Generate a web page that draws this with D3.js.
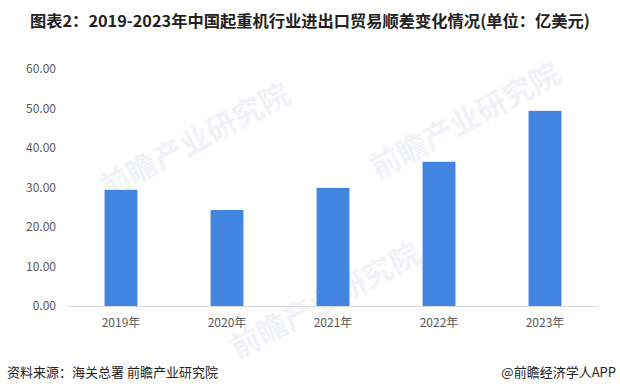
<!DOCTYPE html>
<html><head><meta charset="utf-8">
<script src="https://cdn.jsdelivr.net/npm/d3@7"></script>
<style>body{margin:0;background:#fff}svg{display:block}</style>
</head><body>
<svg id="c" width="620" height="392"></svg>
<script>
const categories = ["2019年","2020年","2021年","2022年","2023年"];
const values = [29.4, 24.3, 29.9, 36.5, 49.4];
const yTicks = [0,10,20,30,40,50,60];
const title = "图表2：2019-2023年中国起重机行业进出口贸易顺差变化情况(单位：亿美元)";
const source = "资料来源：海关总署 前瞻产业研究院";
const credit = "@前瞻经济学人APP";

const svg = d3.select("#c");
const font = "'Noto Sans CJK SC','Microsoft YaHei',sans-serif";
const m = {left:68, right:22, top:69, bottom:86};
const W = 620, H = 392;
const x = d3.scaleBand().domain(categories).range([m.left, W-m.right]).paddingInner(0.69).paddingOuter(0.345);
const y = d3.scaleLinear().domain([0,60]).range([H-m.bottom, m.top]);

// watermarks
const wm = svg.append("g").attr("fill","#f1f3f6").attr("font-family",font).attr("font-weight","bold");
[[200,150],[470,130],[330,310]].forEach(([cx,cy])=>{
  wm.append("text").attr("transform",`translate(${cx},${cy}) rotate(-28)`).attr("font-size",30).attr("text-anchor","middle").text("前瞻产业研究院");
});

svg.append("text").attr("x",310).attr("y",27).attr("text-anchor","middle")
  .attr("font-family",font).attr("font-weight","bold").attr("font-size",16).attr("fill","#222")
  .attr("textLength",560).attr("lengthAdjust","spacingAndGlyphs").text(title);

const ya = svg.append("g").attr("transform",`translate(${m.left},0)`)
  .call(d3.axisLeft(y).tickValues(yTicks).tickFormat(d3.format(".2f")).tickSize(0).tickPadding(12));
ya.select(".domain").remove();
ya.selectAll("text").attr("font-family",font).attr("font-size",12).attr("fill","#595959");

svg.append("g").selectAll("rect").data(values).join("rect")
  .attr("x",(d,i)=>x(categories[i])).attr("width",x.bandwidth())
  .attr("y",d=>y(d)).attr("height",d=>y(0)-y(d)).attr("fill","#4185E1");

const xa = svg.append("g").attr("transform",`translate(0,${y(0)})`)
  .call(d3.axisBottom(x).tickSize(0).tickPadding(12));
xa.select(".domain").attr("stroke","#d9d9d9");
xa.selectAll("text").attr("font-family",font).attr("font-size",12).attr("fill","#595959");

svg.append("text").attr("x",7).attr("y",377).attr("font-family",font).attr("font-size",13).attr("fill","#222").text(source);
svg.append("text").attr("x",616).attr("y",377).attr("text-anchor","end").attr("font-family",font).attr("font-size",13).attr("fill","#222").text(credit);
</script>
</body></html>
